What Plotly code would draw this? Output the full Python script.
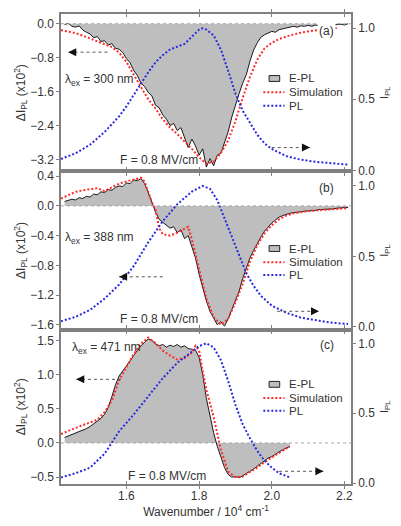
import plotly.graph_objects as go

# ---------------- data ----------------
# Panel (a)  lambda_ex = 300 nm
xa_epl = [1.43,1.44,1.45,1.46,1.47,1.48,1.49,1.50,1.51,1.52,1.53,1.54,1.55,1.56,1.57,1.58,1.59,1.60,1.61,1.62,
          1.63,1.64,1.65,1.66,1.67,1.68,1.69,1.70,1.71,1.72,1.73,1.74,1.75,1.76,1.77,1.78,1.79,1.80,1.81,1.82,
          1.83,1.84,1.85,1.86,1.87,1.88,1.89,1.90,1.91,1.92,1.93,1.94,1.95,1.96,1.97,1.98,1.99,2.00,2.01,2.02,
          2.03,2.04,2.05,2.06,2.07,2.08,2.09,2.10,2.11,2.12,2.13,2.14,2.15,2.16,2.17,2.18,2.19,2.20,2.21]
ya_epl = [-0.02,0.01,-0.06,-0.08,-0.05,-0.15,-0.20,-0.24,-0.33,-0.30,-0.42,-0.40,-0.50,-0.47,-0.58,-0.60,-0.68,-0.82,-0.92,-1.10,
          -1.22,-1.40,-1.48,-1.62,-1.70,-1.92,-1.98,-2.15,-2.25,-2.40,-2.35,-2.52,-2.45,-2.70,-2.92,-2.72,-2.88,-3.10,-2.95,-3.38,
          -3.18,-3.35,-3.10,-3.05,-2.80,-2.55,-2.20,-1.90,-1.65,-1.40,-1.20,-0.88,-0.62,-0.45,-0.32,-0.26,-0.22,-0.18,-0.20,-0.14,
          -0.12,-0.10,-0.09,-0.06,-0.08,-0.05,-0.06,-0.04,-0.06,-0.03,-0.05,-0.03,-0.04,-0.02,-0.03,-0.02,-0.01,-0.03,0.00]
xa_sim = [1.42,1.44,1.46,1.48,1.50,1.52,1.54,1.56,1.58,1.60,1.62,1.64,1.66,1.68,1.70,1.72,1.74,1.76,1.78,1.80,
          1.82,1.84,1.86,1.88,1.90,1.92,1.94,1.96,1.98,2.00,2.02,2.04,2.06,2.08,2.10,2.12,2.14,2.16,2.18]
ya_sim = [-0.15,-0.18,-0.22,-0.28,-0.35,-0.42,-0.48,-0.55,-0.68,-0.90,-1.20,-1.50,-1.78,-2.00,-2.25,-2.45,-2.60,-2.78,-2.95,-3.15,
          -3.30,-3.25,-3.05,-2.75,-2.30,-1.75,-1.25,-0.85,-0.58,-0.45,-0.36,-0.30,-0.25,-0.21,-0.18,-0.16,-0.14,-0.12,-0.10]
xa_pl = [1.42,1.46,1.50,1.54,1.58,1.60,1.62,1.64,1.66,1.68,1.70,1.72,1.74,1.75,1.76,1.78,1.80,1.81,1.82,1.84,
         1.86,1.88,1.90,1.92,1.94,1.96,1.98,2.00,2.04,2.08,2.12,2.16,2.21]
ya_pl = [0.08,0.12,0.18,0.27,0.38,0.45,0.53,0.61,0.69,0.76,0.81,0.85,0.87,0.88,0.89,0.94,0.99,1.00,0.99,0.95,
         0.85,0.70,0.54,0.42,0.33,0.25,0.19,0.15,0.10,0.075,0.06,0.05,0.04]

# Panel (b)  lambda_ex = 388 nm
xb_epl = xa_epl
yb_epl = [0.06,0.07,0.09,0.08,0.11,0.10,0.13,0.12,0.16,0.15,0.19,0.18,0.22,0.21,0.25,0.27,0.26,0.31,0.30,0.35,
          0.34,0.37,0.30,0.18,0.05,-0.08,-0.18,-0.22,-0.26,-0.30,-0.28,-0.36,-0.32,-0.44,-0.40,-0.56,-0.70,-0.92,-1.12,-1.28,
          -1.42,-1.52,-1.60,-1.56,-1.62,-1.52,-1.40,-1.28,-1.15,-0.98,-0.85,-0.70,-0.60,-0.50,-0.42,-0.34,-0.28,-0.23,-0.19,-0.15,
          -0.13,-0.11,-0.10,-0.09,-0.09,-0.08,-0.07,-0.07,-0.06,-0.06,-0.05,-0.05,-0.05,-0.04,-0.04,-0.03,-0.03,-0.02,-0.02]
xb_sim = [1.42,1.44,1.46,1.48,1.50,1.52,1.54,1.56,1.58,1.60,1.62,1.64,1.65,1.66,1.67,1.68,1.69,1.70,1.72,1.74,
          1.76,1.77,1.78,1.80,1.82,1.84,1.86,1.88,1.90,1.92,1.94,1.96,1.98,2.00,2.02,2.04,2.06,2.10,2.14,2.18,2.21]
yb_sim = [0.10,0.15,0.19,0.21,0.22,0.24,0.20,0.25,0.30,0.33,0.36,0.38,0.33,0.20,0.05,-0.05,-0.30,-0.38,-0.40,-0.36,
          -0.30,-0.28,-0.45,-0.85,-1.25,-1.50,-1.60,-1.52,-1.30,-1.05,-0.75,-0.53,-0.37,-0.26,-0.18,-0.13,-0.10,-0.07,-0.05,-0.04,-0.03]
xb_pl = [1.42,1.46,1.50,1.54,1.58,1.62,1.66,1.70,1.74,1.78,1.81,1.83,1.85,1.87,1.89,1.91,1.93,1.95,1.97,2.00,
         2.04,2.08,2.12,2.16,2.21]
yb_pl = [0.04,0.07,0.12,0.20,0.30,0.43,0.60,0.75,0.87,0.96,1.00,0.98,0.90,0.77,0.63,0.50,0.38,0.29,0.22,0.15,
         0.10,0.065,0.045,0.03,0.02]

# Panel (c)  lambda_ex = 471 nm
xc_epl = [1.43,1.44,1.45,1.46,1.47,1.48,1.49,1.50,1.51,1.52,1.53,1.54,1.55,1.56,1.57,1.58,1.59,1.60,1.61,1.62,
          1.63,1.64,1.65,1.66,1.67,1.68,1.69,1.70,1.71,1.72,1.73,1.74,1.75,1.76,1.77,1.78,1.79,1.80,1.81,1.82,
          1.83,1.84,1.85,1.86,1.87,1.88,1.89,1.90,1.91,1.92,1.93,1.94,1.95,1.96,1.97,1.98,1.99,2.00,2.01,2.02,
          2.03,2.04,2.05]
yc_epl = [0.08,0.10,0.12,0.14,0.16,0.19,0.21,0.24,0.28,0.31,0.36,0.42,0.52,0.68,0.85,0.98,1.05,1.12,1.20,1.28,
          1.35,1.42,1.47,1.52,1.50,1.45,1.42,1.44,1.40,1.43,1.41,1.44,1.40,1.42,1.38,1.37,1.36,1.25,1.00,0.65,
          0.38,0.15,-0.05,-0.22,-0.36,-0.46,-0.50,-0.49,-0.51,-0.48,-0.45,-0.42,-0.38,-0.34,-0.30,-0.26,-0.22,-0.20,-0.16,-0.13,
          -0.10,-0.08,-0.05]
xc_sim = [1.42,1.44,1.46,1.48,1.50,1.52,1.54,1.56,1.58,1.60,1.62,1.64,1.66,1.68,1.70,1.72,1.74,1.76,1.78,1.79,
          1.80,1.81,1.82,1.84,1.86,1.88,1.90,1.92,1.94,1.96,1.98,2.00,2.02,2.04,2.05]
yc_sim = [0.13,0.18,0.22,0.26,0.30,0.34,0.45,0.62,0.92,1.12,1.30,1.45,1.54,1.46,1.35,1.28,1.22,1.24,1.32,1.42,
          1.35,1.05,0.78,0.38,-0.10,-0.42,-0.50,-0.49,-0.43,-0.36,-0.28,-0.21,-0.14,-0.08,-0.06]
xc_pl = [1.42,1.46,1.50,1.54,1.58,1.62,1.66,1.70,1.74,1.78,1.80,1.82,1.84,1.86,1.88,1.90,1.92,1.94,1.96,1.98,
         2.00,2.02,2.05]
yc_pl = [0.04,0.07,0.11,0.21,0.37,0.49,0.62,0.75,0.86,0.94,0.98,1.00,0.97,0.88,0.73,0.56,0.42,0.32,0.23,0.16,
         0.11,0.07,0.04]

panel_labels = ["(a)", "(b)", "(c)"]
excitation = ["300", "388", "471"]
field_text = "F = 0.8 MV/cm"
legend_names = ["E-PL", "Simulation", "PL"]

# ---------------- styling ----------------
FONT = "Liberation Sans, Arial, sans-serif"
TXT = "#333333"
AX = "#808080"
FILL = "#bebebe"
RED = "#ff2a2a"
BLUE = "#2a2ae0"
DOT = "2px,2px"

W, H = 401, 526
L, R, T, B = 61, 39, 13, 32
PW, PH = W - L - R, H - T - B

def px(x):
    return (x - L) / PW

def py(y):
    return (H - B - y) / PH

dom = [[py(174), 1.0], [py(336), py(174)], [0.0, py(336)]]
lrange = [[-3.48, 0.23], [-1.666, 0.466], [-0.60, 1.657]]
rrange = [[-0.007, 1.10], [-0.02, 1.104], [-0.007, 1.098]]
ltick = [[0.0, -0.8, -1.6, -2.4, -3.2], [0.4, 0.0, -0.4, -0.8, -1.2, -1.6], [1.5, 1.0, 0.5, 0.0, -0.5]]

fig = go.Figure()

panels = [
    (xa_epl, ya_epl, xa_sim, ya_sim, xa_pl, ya_pl),
    (xb_epl, yb_epl, xb_sim, yb_sim, xb_pl, yb_pl),
    (xc_epl, yc_epl, xc_sim, yc_sim, xc_pl, yc_pl),
]

for i, (xe, ye, xs, ys, xp, yp) in enumerate(panels):
    xa = "x" if i == 0 else f"x{i+1}"
    yl = "y" if i == 0 else f"y{2*i+1}"
    yr = f"y{2*i+2}"
    fig.add_trace(go.Scatter(x=xe, y=ye, mode="lines", fill="tozeroy", fillcolor=FILL,
                             line=dict(color="#1a1a1a", width=1), xaxis=xa, yaxis=yl, showlegend=False))
    fig.add_trace(go.Scatter(x=xs, y=ys, mode="lines", line=dict(color=RED, width=2, dash=DOT),
                             xaxis=xa, yaxis=yl, showlegend=False))
    fig.add_trace(go.Scatter(x=xp, y=yp, mode="lines", line=dict(color=BLUE, width=2, dash=DOT),
                             xaxis=xa, yaxis=yr, showlegend=False))

layout = dict(
    width=W, height=H, margin=dict(l=L, r=R, t=T, b=B),
    paper_bgcolor="white", plot_bgcolor="white",
    font=dict(family=FONT, size=12, color=TXT),
    showlegend=False,
)

for i in range(3):
    xk = "xaxis" if i == 0 else f"xaxis{i+1}"
    ylk = "yaxis" if i == 0 else f"yaxis{2*i+1}"
    yrk = f"yaxis{2*i+2}"
    yl = "y" if i == 0 else f"y{2*i+1}"
    xa = "x" if i == 0 else f"x{i+1}"
    layout[xk] = dict(domain=[0, 1], anchor=yl, range=[1.42, 2.218], tickvals=[1.6, 1.8, 2.0, 2.2],
                      ticktext=["1.6", "1.8", "2.0", "2.2"], showticklabels=(i == 2),
                      ticks="inside", ticklen=3, tickcolor=AX, showline=True, linecolor=AX, linewidth=1.5,
                      mirror="allticks", showgrid=False, zeroline=False,
                      tickfont=dict(size=12, color=TXT))
    if i == 2:
        layout[xk]["title"] = dict(text="Wavenumber / 10<sup>4</sup> cm<sup>-1</sup>",
                                   font=dict(size=12, color=TXT), standoff=2)
    layout[ylk] = dict(domain=dom[i], anchor=xa, range=lrange[i], tickvals=ltick[i],
                       tickformat=".1f", ticks="outside", ticklen=3, tickcolor=AX,
                       showline=True, linecolor=AX, linewidth=1.5, showgrid=False, zeroline=False,
                       tickfont=dict(size=12, color=TXT),
                       title=dict(text="ΔI<sub>PL</sub> (x10<sup>2</sup>)", font=dict(size=12, color=TXT), standoff=2))
    layout[yrk] = dict(overlaying=yl, side="right", anchor=xa, range=rrange[i], tickvals=[0.0, 0.5, 1.0],
                       tickformat=".1f", ticks="outside", ticklen=3, tickcolor=AX,
                       showline=True, linecolor=AX, linewidth=1.5, showgrid=False, zeroline=False,
                       tickfont=dict(size=12, color=TXT),
                       title=dict(text="I<sub>PL</sub>", font=dict(size=11, color=TXT), standoff=6))

fig.update_layout(**layout)

shapes = []
annotations = []

# zero lines
for i in range(3):
    xa = "x" if i == 0 else f"x{i+1}"
    yl = "y" if i == 0 else f"y{2*i+1}"
    shapes.append(dict(type="line", xref=f"{xa} domain", yref=yl, x0=0, x1=1, y0=0, y1=0,
                       line=dict(color="#a8a8a8", width=1, dash="dot"), layer="above"))

# arrows: (panel, axis side, x_tail, x_tip, y)
arrows = [
    (0, "l", 1.548, 1.440, -0.67),
    (0, "r", 2.000, 2.105, 0.16),
    (1, "l", 1.700, 1.580, -0.955),
    (1, "r", 2.015, 2.130, 0.11),
    (2, "l", 1.585, 1.462, 0.93),
    (2, "r", 2.020, 2.142, 0.084),
]
for (i, side, x0, x1, yv) in arrows:
    xa = "x" if i == 0 else f"x{i+1}"
    ya = ("y" if i == 0 else f"y{2*i+1}") if side == "l" else f"y{2*i+2}"
    shapes.append(dict(type="line", xref=xa, yref=ya, x0=x0, x1=x1, y0=yv, y1=yv,
                       line=dict(color="#555555", width=1, dash="dot")))
    sign = 1 if x1 < x0 else -1
    annotations.append(dict(x=x1, y=yv, xref=xa, yref=ya, ax=sign * 9, ay=0, axref="pixel", ayref="pixel",
                            showarrow=True, arrowhead=2, arrowsize=1, arrowwidth=1.6, arrowcolor="#111111",
                            text=""))

# panel texts
lab_pos = [(337, 30), (337, 191), (337, 352)]
lam_pos = [(63, 81), (63, 242), (70, 355)]
f_pos = [(120, 162), (120, 325), (128, 486)]
for i in range(3):
    annotations.append(dict(x=px(lab_pos[i][0]), y=py(lab_pos[i][1]), xref="paper", yref="paper",
                            text=panel_labels[i], showarrow=False, xanchor="center", yanchor="middle",
                            font=dict(size=12, color=TXT), bgcolor="white"))
    annotations.append(dict(x=px(lam_pos[i][0]), y=py(lam_pos[i][1]), xref="paper", yref="paper",
                            text=f"λ<sub>ex</sub> = {excitation[i]} nm", showarrow=False,
                            xanchor="left", yanchor="middle", font=dict(size=12, color=TXT)))
    annotations.append(dict(x=px(f_pos[i][0]), y=py(f_pos[i][1]), xref="paper", yref="paper",
                            text=field_text, showarrow=False, xanchor="left", yanchor="middle",
                            font=dict(size=12, color=TXT)))

# legends (drawn per panel)
leg_rows = [(79, 93, 107), (253, 267, 280), (392, 406, 419)]
for i in range(3):
    r0, r1, r2 = leg_rows[i]
    shapes.append(dict(type="rect", xref="paper", yref="paper", x0=px(277), x1=px(288),
                       y0=py(r0 + 3), y1=py(r0 - 3), fillcolor=FILL, line=dict(color="#222222", width=1)))
    shapes.append(dict(type="line", xref="paper", yref="paper", x0=px(271), x1=px(293), y0=py(r1), y1=py(r1),
                       line=dict(color=RED, width=2, dash=DOT)))
    shapes.append(dict(type="line", xref="paper", yref="paper", x0=px(271), x1=px(293), y0=py(r2), y1=py(r2),
                       line=dict(color=BLUE, width=2, dash=DOT)))
    for name, rr in zip(legend_names, (r0, r1, r2)):
        annotations.append(dict(x=px(296), y=py(rr), xref="paper", yref="paper", text=name,
                                showarrow=False, xanchor="left", yanchor="middle",
                                font=dict(size=11.5, color=TXT)))

fig.update_layout(shapes=shapes, annotations=annotations)
fig.write_html("out.html")
